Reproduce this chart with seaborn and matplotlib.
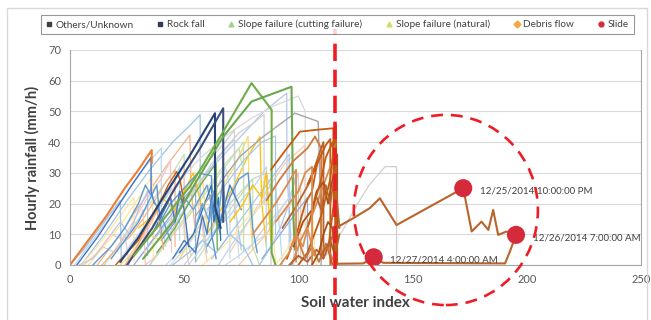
import matplotlib
matplotlib.use("Agg")
import matplotlib.pyplot as plt
from matplotlib.lines import Line2D
from matplotlib.patches import Ellipse, Rectangle
import seaborn as sns

# --- data: soil water index (x) vs hourly rainfall (y), one polyline per rain event ---
light_events = [
    ([5, 15, 25, 35, 45, 52, 57, 57, 60], [0, 10, 21, 31, 40, 45, 48.9, 20, 4]),
    ([30, 45, 60, 75, 85, 94.9, 95, 97], [2, 16, 30, 42, 50, 55.9, 30, 5]),
    ([12, 22, 32, 42, 52.5, 53, 55], [0, 10, 21, 32, 42.3, 25, 10]),
    ([48, 56, 64, 72, 78, 78.5, 80], [2, 12, 22, 32, 41.8, 20, 5]),
    ([70, 78, 86, 94, 102.9, 103, 105], [4, 14, 24, 33, 39, 15, 2]),
    ([15, 25, 35, 45, 50, 50, 53], [0, 10, 20, 30, 36, 12, 3]),
    ([20, 32, 44, 56, 68, 80, 90, 100, 103, 103], [0, 12, 24, 34, 42, 48, 52, 55, 50, 10]),
    ([2, 10, 18, 26, 34, 40, 40, 42], [0, 8, 16, 25, 33, 38, 14, 6]),
    ([8, 16, 24, 32, 36, 36.5], [0, 7, 15, 24, 29, 2]),
    ([35, 42, 50, 58, 66, 72, 72.5, 75], [0, 8, 18, 28, 36, 41, 18, 5]),
    ([42, 50, 58, 62, 65, 68, 70, 70], [0, 6, 14, 20, 26, 32, 25, 2]),
    ([25, 33, 40, 46, 50, 50, 52], [2, 10, 20, 28, 33, 10, 0]),
    ([50, 60, 70, 80, 86, 88, 88], [0, 10, 20, 28, 30, 24, 0]),
    ([55, 63, 70, 76, 80, 80, 83], [1, 10, 18, 24, 28, 6, 0]),
    ([65, 72, 78, 84, 90, 92, 93], [0, 8, 14, 20, 26, 10, 0]),
    ([18, 26, 34, 40, 44, 44.5], [3, 12, 22, 28, 34, 4]),
    ([28, 34, 40, 45, 50, 55, 55], [0, 6, 12, 17, 22, 26, 1]),
    ([5, 12, 18, 24, 28, 28], [0, 6, 12, 18, 22, 1]),
    ([78, 85, 92, 96, 100, 100], [5, 12, 18, 22, 30, 2]),
    ([83, 88, 92, 96, 98, 99, 99], [0, 6, 12, 20, 26, 30, 2]),
    ([112, 120, 126, 131, 138, 143, 143], [3, 12, 20, 26, 32, 32, 1]),
    ([60, 66, 72, 77, 80, 83.2, 84, 86], [10, 18, 26, 34, 38, 41.8, 20, 6]),
    ([0, 6, 12, 18, 22, 22.5], [0, 5, 11, 17, 21, 0]),
    ([10, 16, 22, 26, 30, 34, 34], [2, 8, 14, 10, 18, 24, 3]),
    ([14, 20, 26, 32, 38, 42, 46, 46], [0, 5, 9, 15, 22, 27, 31, 6]),
    ([22, 28, 34, 40, 46, 52, 58, 60], [0, 4, 10, 8, 16, 22, 28, 12]),
    ([33, 38, 44, 50, 56, 58, 60], [0, 3, 9, 14, 20, 12, 1]),
    ([36, 44, 52, 60, 68, 74, 76, 76], [1, 9, 17, 25, 33, 38, 30, 4]),
    ([44, 50, 56, 60, 64, 68, 72, 74], [0, 5, 11, 8, 14, 20, 24, 2]),
    ([52, 58, 64, 70, 76, 82, 86, 86], [0, 6, 12, 16, 22, 27, 32, 3]),
    ([58, 64, 70, 76, 82, 88, 90], [0, 4, 8, 14, 18, 22, 0]),
    ([62, 70, 78, 86, 92, 96, 96], [2, 10, 18, 26, 32, 36, 5]),
    ([68, 74, 80, 86, 90, 94, 98, 98], [0, 3, 7, 10, 15, 20, 24, 0]),
    ([74, 80, 86, 92, 97, 101, 101], [0, 5, 10, 16, 20, 25, 1]),
    ([40, 48, 56, 62, 68, 74, 80, 85, 85], [10, 18, 26, 33, 38, 43, 46, 49, 20]),
    ([50, 58, 66, 72, 76, 76], [14, 22, 30, 36, 40, 10]),
    ([26, 32, 38, 42, 46, 48, 48], [6, 12, 18, 22, 28, 32, 8]),
    ([6, 12, 18, 24, 30, 32, 33], [0, 4, 10, 8, 14, 18, 0]),
    ([84, 90, 96, 100, 104, 104], [2, 8, 14, 18, 22, 0]),
    ([90, 94, 98, 102, 106, 108], [0, 4, 9, 13, 18, 0]),
    ([46, 54, 62, 68, 72, 72], [20, 28, 35, 40, 44, 15]),
    ([60, 68, 76, 84, 90, 90], [18, 26, 34, 40, 42, 10]),
    ([4, 10, 14, 20, 24, 26], [0, 2, 6, 4, 10, 0]),
    ([30, 36, 40, 46, 50, 54, 58], [12, 16, 22, 18, 24, 30, 18]),
    ([45, 52, 58, 64, 70, 76, 80], [0, 4, 8, 4, 10, 6, 0]),
]
mid_events = [
    ([3, 12, 20, 28, 35.5, 35.5, 37], [0, 9, 18, 27, 35, 24, 20]),
    ([10, 18, 24, 30, 33, 36, 40, 44], [0, 6, 12, 20, 26, 22, 16, 8]),
    ([30, 38, 44, 50, 56, 62, 62, 64], [5, 12, 20, 25, 30, 29, 10, 2]),
    ([40, 46, 50, 54, 60, 63, 66], [8, 14, 22, 18, 26, 16, 10]),
    ([60, 66, 70, 74, 78, 80, 82], [6, 14, 22, 28, 30, 12, 4]),
    ([45, 50, 55, 58, 60, 62, 65, 70, 75], [2, 8, 4, 16, 10, 22, 12, 26, 18]),
    ([48, 54, 58, 62, 63, 65, 66], [4, 10, 18, 26, 14, 22, 8]),
    ([38, 46, 52, 58, 64, 64.5], [4, 12, 20, 27, 33, 5]),
    ([20, 30, 38, 43, 46.7, 48.2, 50], [0, 8, 18, 26, 30.4, 27.7, 20]),
    ([55, 65, 74.4, 85, 98.5, 108.7, 109.5, 110], [16, 26, 35.3, 42, 49.4, 46.7, 25, 0]),
    ([18, 24, 30, 34, 38, 40], [2, 8, 14, 20, 26, 10]),
    ([36, 40, 44, 46, 48, 50, 52], [10, 16, 22, 14, 24, 18, 6]),
    ([55, 58, 61, 63, 65, 67, 69], [12, 20, 14, 24, 16, 28, 10]),
    ([24, 28, 32, 35, 38, 41], [0, 4, 10, 14, 18, 5]),
    ([70, 76, 80, 84, 86, 88], [14, 20, 26, 22, 30, 8]),
]
bold_events = [
    ([0, 8, 16, 24, 30, 35.8, 35.8], [0, 8, 16, 25, 31, 37.4, 33]),
    ([22, 30, 40, 52, 63.5, 63.5, 66], [1, 9, 21, 35, 49.4, 19, 12]),
    ([25, 36, 46, 57, 67.1, 67.1], [0, 12, 25, 38, 51, 14]),
    ([28, 40, 52.5, 66, 79.5, 88.3, 88.3, 90], [3, 14, 25.5, 42, 59.2, 50.5, 4, 0]),
    ([32, 45, 56, 67.1, 79.5, 97, 97.8, 98.5], [2, 14, 28, 41.8, 53.2, 58, 15.7, 5]),
]
slide_cluster = [
    ([88, 94, 100.7, 108, 115.3, 115.5, 113, 115], [31, 37, 43.4, 44, 44.5, 20, 5, 0]),
    ([86, 92, 98, 104, 107.3, 110, 110], [21, 28, 34, 38, 41.8, 38, 2]),
    ([93, 99, 105, 109.5, 111, 111], [12, 19, 27, 37, 40, 3]),
    ([95, 100, 103, 106, 108.5, 104, 112, 114, 114], [2, 12, 20, 24, 34, 26, 39, 41, 0]),
    ([97, 101, 105, 109, 113, 116, 116], [0, 8, 14, 22, 30, 36, 1]),
    ([98, 102, 106, 108, 111, 113, 117, 117], [6, 14, 18, 24, 27, 20, 36, 0]),
    ([100, 104, 107, 110, 114, 116.5, 116.5], [0, 4, 10, 16, 28, 45.5, 0]),
    ([80, 85, 90, 95, 99, 99], [10, 15, 20, 26, 31, 1]),
    ([96, 100, 104, 108, 111, 114, 116, 118], [0, 3, 1, 5, 2, 8, 3, 10]),
    ([100, 103, 106, 109, 112, 115, 117], [8, 2, 6, 1, 7, 2, 0]),
    ([104, 107, 110, 112, 115, 117], [12, 20, 28, 35, 40, 0]),
    ([90, 96, 100, 103, 106, 106], [14, 20, 24, 30, 32, 0]),
    ([106, 109, 111, 113, 115, 116], [0, 4, 10, 14, 12, 0]),
    ([92, 96, 99, 102, 104, 107], [0, 4, 10, 6, 12, 3]),
    ([108, 110, 112, 114, 116, 118], [22, 18, 26, 20, 30, 12]),
]
slide_swi = [110, 114, 117.5, 124, 131.3, 135.7, 143, 172.2, 175.9, 180.2, 183.2, 185.3,
             187.5, 191.2, 195.3, 192.6, 190.5, 160, 137.2, 133, 128.4, 117.5]
slide_rain = [3, 8, 12.5, 15.2, 18.5, 21.7, 13, 25, 10.9, 14.1, 11.4, 17.9,
              9.8, 10.9, 9.8, 4.3, 0.5, 0.6, 0.7, 2.5, 0.5, 0.4]

marker_swi = [172.2, 195.3, 133]
marker_rain = [25, 9.8, 2.5]
marker_labels = ["12/25/2014 10:00:00 PM", "12/26/2014 7:00:00 AM", "12/27/2014 4:00:00 AM"]

swi_threshold = 116
circle_center = (164.6, 17.9)
circle_size = (80.6, 61.9)

legend_names = ["Others/Unknown", "Rock fall", "Slope failure (cutting failure)",
                "Slope failure (natural)", "Debris flow", "Slide"]

# --- styles ---
light_palette = ["#9DC3E6", "#B4C7E7", "#F4B183", "#FFD966", "#F8CBAD", "#C5E0B4",
                 "#D9D9D9", "#BDD7EE", "#FFE699", "#A9C8E8", "#C9DAF0", "#F8CBAD",
                 "#D0D0D0", "#C5E0B4", "#BDD7EE", "#F4C7C3", "#8FAADC", "#FFE699",
                 "#CFCFCF", "#A9C8E8", "#D0D0D0", "#FFC000"]
light_colors = [light_palette[i % len(light_palette)] for i in range(len(light_events))]
mid_colors = ["#4472C4", "#5B9BD5", "#5B9BD5", "#6FA0D8", "#5B9BD5", "#4A7EBB",
              "#2E75B6", "#70AD47", "#C55A11", "#A5A5A5", "#5B9BD5", "#4472C4",
              "#6FA0D8", "#F4B183", "#FFC000"]
bold_colors = ["#ED7D31", "#264478", "#3A4F7A", "#70AD47", "#6AA84F"]
cluster_colors = ["#C55A11", "#D07A3A", "#B8642A", "#C55A11", "#D98B50", "#A8501A",
                  "#C55A11", "#E08C4E", "#B4622A", "#C87B44", "#C55A11", "#D98B50",
                  "#A8501A", "#E08C4E", "#B8642A"]
legend_markers = [("s", "#404040"), ("s", "#2F3B55"), ("^", "#A9D18E"),
                  ("^", "#D4DB6A"), ("D", "#F4A742"), ("o", "#D42A3C")]

sns.set_style("white")
plt.rcParams['font.family'] = ['Lato', 'DejaVu Sans']

fig = plt.figure(figsize=(6.51, 3.2), dpi=100)
ax = fig.add_axes([0.1075, 0.172, 0.877, 0.672])


def draw(events, colors, lw):
    for (xs, ys), c in zip(events, colors):
        sns.lineplot(x=xs, y=ys, sort=False, estimator=None, color=c, lw=lw, ax=ax)


draw(light_events, light_colors, 0.9)
draw(mid_events, mid_colors, 1.0)
draw(bold_events, bold_colors, 1.5)
draw(slide_cluster, cluster_colors, 1.3)
sns.lineplot(x=slide_swi, y=slide_rain, sort=False, estimator=None, color="#B8642A", lw=1.5, ax=ax)
sns.scatterplot(x=marker_swi, y=marker_rain, s=170, color="#D42A3C", edgecolor="none", ax=ax, zorder=5)
for sx, sy, lab in zip(marker_swi, marker_rain, marker_labels):
    ax.annotate(lab, (sx, sy), xytext=(12, -2), textcoords="offset points",
                fontsize=7, color="#404040", va="center")

ax.set_xlim(0, 250)
ax.set_ylim(0, 70)
ax.set_xticks(range(0, 251, 50))
ax.set_yticks(range(0, 71, 10))
ax.tick_params(labelsize=8, colors="#595959", length=3, width=0.6)
ax.yaxis.grid(True, color="#D9D9D9", lw=0.8)
for s in ax.spines.values():
    s.set_color("#A6A6A6")
    s.set_linewidth(0.8)
ax.spines["top"].set_visible(False)
ax.set_xlabel("Soil water index", fontsize=11, fontweight="bold", color="#404040", labelpad=8)
ax.set_ylabel("Hourly rainfall (mm/h)", fontsize=10.5, fontweight="bold", color="#404040", labelpad=6)

ax.add_patch(Ellipse(circle_center, circle_size[0], circle_size[1], fill=False,
                     edgecolor="#EE1C25", lw=1.9, linestyle=(0, (4.5, 3)), clip_on=False, zorder=6))

handles = [Line2D([], [], marker=m, color=c, linestyle="none", markersize=3.5) for m, c in legend_markers]
leg = fig.legend(handles, legend_names, loc="center", bbox_to_anchor=(0.518, 0.923), ncol=6,
                 fontsize=7.2, frameon=True, fancybox=False, handlelength=0.6, handletextpad=0.35,
                 columnspacing=2.4, borderpad=0.5, labelcolor="#404040")
leg.get_frame().set_edgecolor("#7F7F7F")
leg.get_frame().set_linewidth(0.8)

ax.axvline(swi_threshold, ymin=-0.26, ymax=1.095, clip_on=False, color="#EE1C25",
           lw=2.6, dashes=(4.8, 2.4), zorder=10)

fig.patches.append(Rectangle((0.011, -0.05), 0.983, 1.025, transform=fig.transFigure,
                             fill=False, edgecolor="#D9D9D9", lw=1.0))

fig.savefig("out.png", dpi=100)
